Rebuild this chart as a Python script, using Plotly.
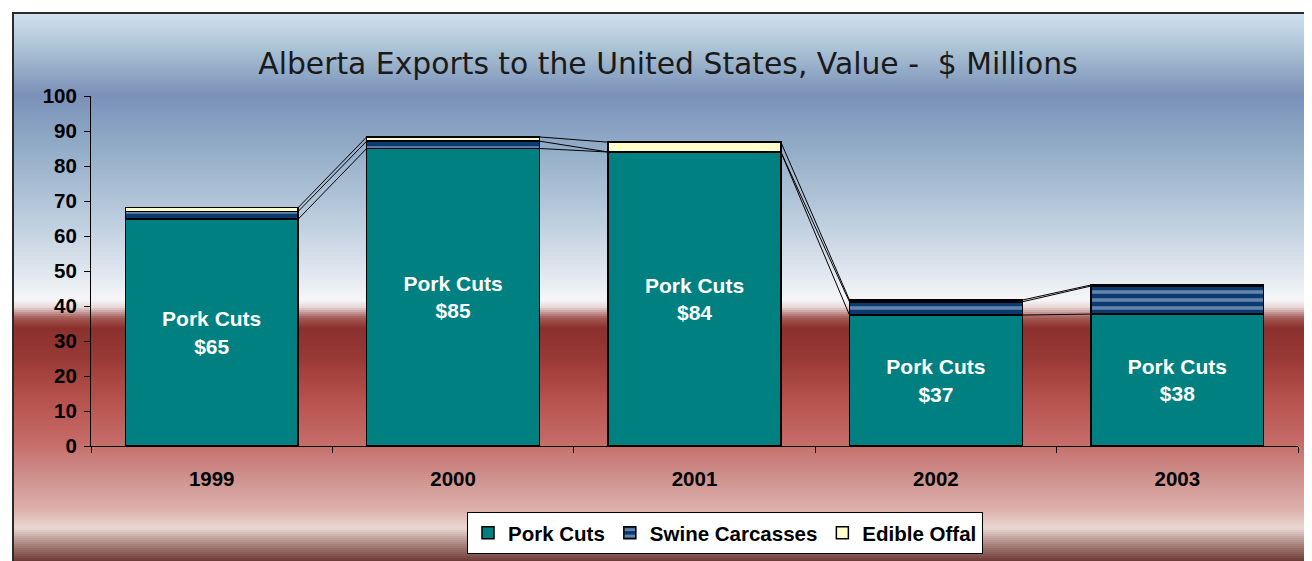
import plotly.graph_objects as go

years = ["1999", "2000", "2001", "2002", "2003"]
pork_cuts = [64.8, 85.0, 84.0, 37.4, 37.7]
swine_carcasses = [2.2, 2.1, 0.0, 3.8, 8.0]
edible_offal = [1.1, 1.2, 2.8, 0.5, 0.3]

OFF = 8  # page body margin
W, H = 1312 - OFF, 561 - OFF
L = 91 - OFF
T = 96 - OFF
R = W - (1298 - OFF)
B = H - (446 - OFF)
PW, PH = W - L - R, H - T - B
BAR_W = 0.716

def px_to_paper_x(px):
    return (px - OFF - L) / PW

def px_to_paper_y(py):
    return (H - B - (py - OFF)) / PH

stops = [
    (12, (0xd2, 0xe2, 0xee)), (50, (0xa9, 0xc1, 0xd4)), (95, (0x7a, 0x90, 0xb8)),
    (150, (0x93, 0xae, 0xc8)), (220, (0xbc, 0xcd, 0xde)), (280, (0xe5, 0xeb, 0xf1)),
    (300, (0xf6, 0xf6, 0xf8)), (307, (0xe8, 0xd8, 0xd8)), (318, (0xa5, 0x5a, 0x56)),
    (328, (0x8a, 0x30, 0x2e)), (360, (0x9a, 0x3a, 0x36)), (400, (0xb7, 0x52, 0x4e)),
    (440, (0xc4, 0x6a, 0x66)), (480, (0xd0, 0x94, 0x90)), (510, (0xdd, 0xb1, 0xac)),
    (528, (0xe9, 0xd8, 0xd3)), (545, (0xa8, 0x80, 0x7a)), (561, (0x6e, 0x3c, 0x38)),
]

def colour_at(py):
    for (y0, c0), (y1, c1) in zip(stops[:-1], stops[1:]):
        if y0 <= py <= y1:
            t = (py - y0) / (y1 - y0) if y1 > y0 else 0
            c = [round(a + (b - a) * t) for a, b in zip(c0, c1)]
            return "rgb(%d,%d,%d)" % tuple(c)
    return "rgb(%d,%d,%d)" % stops[-1][1]

shapes = []
step = 2
for py in range(12, 562, step):
    shapes.append(dict(
        type="rect", xref="paper", yref="paper", layer="below",
        x0=px_to_paper_x(12), x1=px_to_paper_x(1320),
        y0=px_to_paper_y(py + step + 0.5), y1=px_to_paper_y(py),
        fillcolor=colour_at(py + step / 2), line=dict(width=0),
    ))
shapes.append(dict(type="line", xref="paper", yref="paper", layer="below",
                   x0=px_to_paper_x(13), x1=px_to_paper_x(13),
                   y0=px_to_paper_y(12), y1=px_to_paper_y(565),
                   line=dict(color="#2a2a2a", width=2)))
shapes.append(dict(type="line", xref="paper", yref="paper", layer="below",
                   x0=px_to_paper_x(12), x1=px_to_paper_x(1320),
                   y0=px_to_paper_y(13), y1=px_to_paper_y(13),
                   line=dict(color="#2a2a2a", width=2)))

xs = list(range(len(years)))
fig = go.Figure()

outline = dict(color="black", width=1.5)
fig.add_trace(go.Bar(
    x=xs, y=pork_cuts, name="Pork Cuts", width=BAR_W,
    marker=dict(color="#008080", line=outline),
    text=["Pork Cuts<br>$%d" % round(v) for v in pork_cuts],
    textposition="inside", insidetextanchor="middle",
    textfont=dict(family="Liberation Sans, Arial", size=21, color="white", weight="bold"),
    hoverinfo="skip",
))
fig.add_trace(go.Bar(
    x=xs, y=swine_carcasses, name="Swine Carcasses", width=BAR_W,
    marker=dict(color="#0a3a70", line=outline,
                pattern=dict(shape="-", fgcolor="#bccde4", bgcolor="#0a3a70", size=8, solidity=0.45)),
    hoverinfo="skip",
))
fig.add_trace(go.Bar(
    x=xs, y=edible_offal, name="Edible Offal", width=BAR_W,
    marker=dict(color="#ffffcc", line=outline),
    hoverinfo="skip",
))

levels = []
for p, s, o in zip(pork_cuts, swine_carcasses, edible_offal):
    levels.append([p, p + s, p + s + o])
for i in range(len(years) - 1):
    for k in range(3):
        fig.add_trace(go.Scatter(
            x=[i + BAR_W / 2, i + 1 - BAR_W / 2], y=[levels[i][k], levels[i + 1][k]],
            mode="lines", line=dict(color="black", width=1),
            showlegend=False, hoverinfo="skip",
        ))

fig.update_layout(
    width=W, height=H,
    margin=dict(l=L, r=R, t=T, b=B, pad=0, autoexpand=False),
    barmode="stack",
    paper_bgcolor="white",
    plot_bgcolor="rgba(0,0,0,0)",
    shapes=shapes,
    showlegend=True,
    title=dict(
        text="Alberta Exports to the United States, Value -  $ Millions",
        font=dict(family="DejaVu Sans, Verdana", size=29.8, color="#1a1a1a"),
        x=px_to_paper_x(668), xref="paper", xanchor="center",
        y=1 - (64 - OFF) / H, yref="container", yanchor="middle",
    ),
    legend=dict(
        orientation="h", x=px_to_paper_x(725), xanchor="center",
        y=px_to_paper_y(512), yanchor="top",
        bgcolor="white", bordercolor="black", borderwidth=1,
        font=dict(family="Liberation Sans, Arial", size=20.5, color="black", weight="bold"),
        traceorder="normal", itemwidth=30,
    ),
    xaxis=dict(
        range=[-0.5, len(years) - 0.5], tickvals=xs, ticktext=years,
        showgrid=False, zeroline=False, automargin=False,
        showline=True, linecolor="black", linewidth=1,
        ticks="", ticklabelstandoff=14,
        tickfont=dict(family="Liberation Sans, Arial", size=20.5, color="black", weight="bold"),
        minor=dict(ticks="outside", tick0=-0.5, dtick=1, ticklen=6, tickcolor="black", tickwidth=1),
    ),
    yaxis=dict(
        range=[0, 100], dtick=10, showgrid=False, zeroline=False, automargin=False,
        showline=True, linecolor="black", linewidth=1,
        ticks="outside", ticklen=6, tickcolor="black",
        tickfont=dict(family="Liberation Sans, Arial", size=20.5, color="black", weight="bold"),
        ticklabelstandoff=3,
    ),
)

fig.write_html("out.html")
